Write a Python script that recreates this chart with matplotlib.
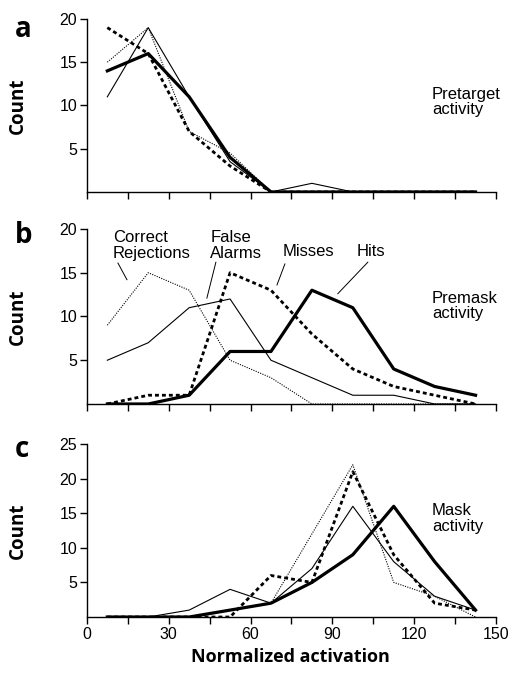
import matplotlib
matplotlib.use('Agg')
from matplotlib import pyplot as plt


# Bin centres (normalized activation)
bins = [7.5, 22.5, 37.5, 52.5, 67.5, 82.5, 97.5, 112.5, 127.5, 142.5]

# Panel a - pretarget activity
a_hits = [14, 16, 11, 4, 0, 0, 0, 0, 0, 0]
a_misses = [19, 16, 7, 3, 0, 0, 0, 0, 0, 0]
a_false_alarms = [11, 19, 11, 3.5, 0, 1, 0, 0, 0, 0]
a_correct_rej = [15, 19, 7, 4.5, 0, 0, 0, 0, 0, 0]

# Panel b - premask activity
b_hits = [0, 0, 1, 6, 6, 13, 11, 4, 2, 1]
b_misses = [0, 1, 1, 15, 13, 8, 4, 2, 1, 0]
b_false_alarms = [5, 7, 11, 12, 5, 3, 1, 1, 0, 0]
b_correct_rej = [9, 15, 13, 5, 3, 0, 0, 0, 0, 0]

# Panel c - mask activity
c_hits = [0, 0, 0, 1, 2, 5, 9, 16, 8, 1]
c_misses = [0, 0, 0, 0, 6, 5, 21, 9, 2, 1]
c_false_alarms = [0, 0, 1, 4, 2, 7, 16, 8, 3, 1]
c_correct_rej = [0, 0, 0, 1, 2, 12, 22, 5, 3, 0]

x_ticks = [0, 15, 30, 45, 60, 75, 90, 105, 120, 135, 150]
x_labels = ['0', '', '30', '', '60', '', '90', '', '120', '', '150']

sans = ['Liberation Sans', 'DejaVu Sans']
bold = ['Open Sans', 'DejaVu Sans']

fig = plt.figure(figsize=(5.14, 6.75), dpi=100)

# axes rectangles in figure fraction
rects = [[0.169, 0.7156, 0.796, 0.2563],
         [0.169, 0.4015, 0.796, 0.2593],
         [0.169, 0.0859, 0.796, 0.2563]]

panels = [
    (a_hits, a_misses, a_false_alarms, a_correct_rej, 20, [5, 10, 15, 20], 'a', 'Pretarget\nactivity', 10.4),
    (b_hits, b_misses, b_false_alarms, b_correct_rej, 20, [5, 10, 15, 20], 'b', 'Premask\nactivity', 11.2),
    (c_hits, c_misses, c_false_alarms, c_correct_rej, 25, [5, 10, 15, 20, 25], 'c', 'Mask\nactivity', 14.2),
]

letter_y = [0.945, 0.64, 0.323]

axes = []
for i, (hits, misses, fa, cr, ymax, yt, letter, note, note_y) in enumerate(panels):
    ax = fig.add_axes(rects[i])
    ax.plot(bins, cr, color='black', lw=0.8, linestyle=(0, (1, 1.2)))
    ax.plot(bins, fa, color='black', lw=0.8)
    ax.plot(bins, misses, color='black', lw=2.0, linestyle=(0, (1.4, 1.1)))
    ax.plot(bins, hits, color='black', lw=2.3)

    ax.set_xlim(0, 150)
    ax.set_ylim(0, ymax)
    ax.set_yticks(yt)
    ax.set_xticks(x_ticks)
    if i == 2:
        ax.set_xticklabels(x_labels)
    else:
        ax.set_xticklabels([])
    for s in ['top', 'right']:
        ax.spines[s].set_visible(False)
    for s in ['left', 'bottom']:
        ax.spines[s].set_linewidth(1.0)
    ax.tick_params(direction='out', length=5, width=1.0, pad=2, labelsize=11.5)
    for lab in ax.get_xticklabels() + ax.get_yticklabels():
        lab.set_family(sans)

    ax.set_ylabel('Count', family=bold, fontweight='bold', fontsize=13.5)
    ax.yaxis.set_label_coords(-0.143, 0.5)

    ax.text(126.5, note_y, note, family=sans, fontsize=12, ha='left', va='center',
            linespacing=1.05)

    fig.text(0.029, letter_y[i], letter, family=bold, fontweight='bold', fontsize=20,
             va='baseline', ha='left')
    axes.append(ax)

# Labels for panel b
axb = axes[1]
labels_b = [
    ('Correct\nRejections', 9.5, 18.1, (11.4, 16.1), (14.7, 14.2)),
    ('False\nAlarms', 45.3, 18.1, (47.3, 16.2), (44.0, 12.1)),
    ('Misses', 71.9, 17.4, (72.6, 16.0), (69.7, 13.6)),
    ('Hits', 99.0, 17.4, (103.0, 16.2), (92.0, 12.6)),
]
for txt, tx, ty, p0, p1 in labels_b:
    axb.text(tx, ty, txt, family=sans, fontsize=12, ha='left', va='center',
             linespacing=1.05)
    axb.plot([p0[0], p1[0]], [p0[1], p1[1]], color='black', lw=0.7)

fig.text(0.566, 0.027, 'Normalized activation', family=bold, fontweight='bold',
         fontsize=13, ha='center', va='center')

fig.savefig('out.png', dpi=100)
